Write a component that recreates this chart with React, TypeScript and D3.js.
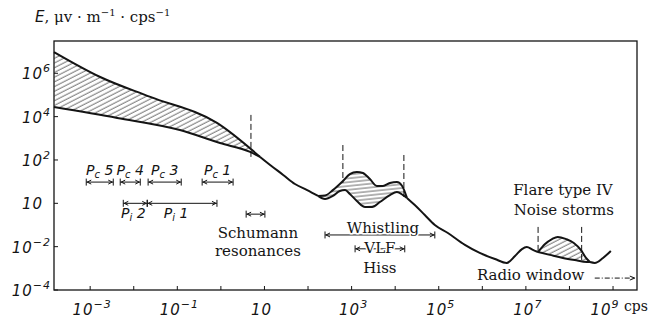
import React from 'react';
import * as d3 from 'd3';

// ---- axes (log10 units) ----
const xDomain: [number, number] = [-3.83, 9.55];
const yDomain: [number, number] = [-4, 7.49];
const xTickValues = [-3, -2, -1, 0, 1, 2, 3, 4, 5, 6, 7, 8, 9];
const xLabelValues = [-3, -1, 1, 3, 5, 7, 9];
const xLabelExps = ['−3', '−1', '', '3', '5', '7', '9'];
const yLabelValues = [-4, -2, 0, 2, 4, 6];
const yLabelExps = ['−4', '−2', '', '2', '4', '6'];

// ---- curves: [log10 f, log10 E] ----
const bandUpper: [number, number][] = [[-3.83, 6.98], [-2.77, 5.83], [-1.62, 4.91], [-0.09, 3.71], [0.9, 2.14]];
const bandLower: [number, number][] = [[-3.83, 4.44], [-2.38, 3.94], [-0.94, 3.38], [-0.02, 2.78], [0.67, 2.37], [0.9, 2.14]];
const mainA: [number, number][] = [[0.9, 2.14], [1.13, 1.77], [1.43, 1.31], [1.7, 0.89], [1.98, 0.61], [2.23, 0.34]];
const whistUpper: [number, number][] = [[2.23, 0.34], [2.39, 0.36], [2.57, 0.61], [2.8, 1.03], [2.96, 1.35], [3.12, 1.45], [3.26, 1.4], [3.42, 1.12], [3.58, 0.8], [3.72, 0.8], [3.88, 0.94], [4.04, 0.98], [4.16, 0.8], [4.27, 0.25]];
const whistLower: [number, number][] = [[2.23, 0.34], [2.39, 0.2], [2.57, 0.34], [2.73, 0.57], [2.85, 0.61], [2.96, 0.43], [3.12, 0.11], [3.31, -0.17], [3.47, -0.17], [3.65, 0.06], [3.88, 0.38], [4.04, 0.52], [4.18, 0.38], [4.27, 0.25]];
const mainB: [number, number][] = [[4.27, 0.25], [4.45, -0.08], [4.68, -0.54], [4.91, -1.0], [5.21, -1.37], [5.6, -1.92], [5.94, -2.29], [6.29, -2.57], [6.56, -2.75], [6.75, -2.43], [6.91, -2.11], [7.02, -2.02], [7.16, -2.15], [7.28, -2.25]];
const flareUpper: [number, number][] = [[7.28, -2.25], [7.44, -1.88], [7.6, -1.65], [7.73, -1.55], [7.92, -1.65], [8.1, -1.83], [8.26, -2.15], [8.38, -2.52], [8.47, -2.71]];
const flareLower: [number, number][] = [[7.28, -2.25], [7.55, -2.38], [7.85, -2.52], [8.12, -2.62], [8.4, -2.71], [8.47, -2.71]];
const mainC: [number, number][] = [[8.47, -2.71], [8.58, -2.75], [8.77, -2.52], [8.95, -2.2]];

// dashed verticals: [x, yTop, yBottom]
const dashedMarks: [number, number, number][] = [[0.69, 4.08, 2.0], [2.8, 2.69, 0.94], [4.2, 2.23, 0.29], [7.28, -1.09, -2.25], [8.28, -1.09, -2.62]];

// pulsation ranges: [from, to, level]
const pcNames = ['5', '4', '3', '1'];
const pcRanges: [number, number, number][] = [[-3.09, -2.47, 0.98], [-2.31, -1.85, 0.98], [-1.67, -0.91, 0.98], [-0.43, 0.28, 0.98]];
const piNames = ['2', '1'];
const piRanges: [number, number, number][] = [[-2.24, -1.69, 0], [-1.69, -0.09, 0]];
const otherRanges: [number, number, number][] = [[0.58, 1.01, -0.5], [2.39, 4.91, -1.46], [3.08, 4.22, -2.1]];
const radioArrow: [number, number, number] = [8.58, 9.5, -3.45];

// labels: [text, x, y]
const labels: [string, number, number][] = [
  ['Schumann', 0.85, -1.6],
  ['resonances', 0.85, -2.43],
  ['Whistling', 3.72, -1.37],
  ['VLF', 3.65, -2.29],
  ['Hiss', 3.65, -3.22],
  ['Radio window', 7.11, -3.54],
  ['Flare type IV', 7.85, 0.38],
  ['Noise storms', 7.87, -0.54],
];

const INK = '#141414';
const SERIF = '"DejaVu Serif", serif';
const NUM = '"DejaVu Sans", sans-serif';

export default function App() {
  const W = 654, H = 320;
  const x = d3.scaleLinear().domain(xDomain).range([54, 637]);
  const y = d3.scaleLinear().domain(yDomain).range([290, 41]);
  const line = d3.line<[number, number]>().x(d => x(d[0])).y(d => y(d[1])).curve(d3.curveMonotoneX);

  const areaPath = (up: [number, number][], lo: [number, number][]) => {
    const a = line(up) || '';
    const rev = lo.slice().reverse() as [number, number][];
    const b = (line(rev) || '').replace(/^M/, 'L');
    return a + b + 'Z';
  };

  const rangeBar = (r: [number, number, number], key: string) => {
    const x1 = x(r[0]), x2 = x(r[1]), yy = y(r[2]);
    return (
      <g key={key} stroke={INK} strokeWidth={1} fill="none">
        <line x1={x1} x2={x2} y1={yy} y2={yy} />
        <line x1={x1} x2={x1} y1={yy - 3.5} y2={yy + 3.5} />
        <line x1={x2} x2={x2} y1={yy - 3.5} y2={yy + 3.5} />
        <path d={`M${x1 + 5},${yy - 2}L${x1 + 1},${yy}L${x1 + 5},${yy + 2}`} />
        <path d={`M${x2 - 5},${yy - 2}L${x2 - 1},${yy}L${x2 - 5},${yy + 2}`} />
      </g>
    );
  };

  const pLabel = (sub: string, num: string, cx: number, by: number, key: string) => (
    <text key={key} x={cx} y={by} textAnchor="middle" fontFamily={NUM} fontStyle="italic" fontSize={14} fill={INK}>
      P<tspan fontSize={10} dy={3}>{sub}</tspan><tspan dy={-3}>{' ' + num}</tspan>
    </text>
  );

  const lastX = xLabelValues.length - 1;

  return (
    <svg width={W} height={H} style={{ position: 'absolute', left: 0, top: 0, background: '#fff' }}>
      <defs>
        <pattern id="hatchDiag" width={8} height={4.2} patternUnits="userSpaceOnUse" patternTransform="rotate(-27)">
          <line x1={0} y1={1} x2={8} y2={1} stroke="#333" strokeWidth={0.75} />
        </pattern>
        <pattern id="hatchFlat" width={8} height={3.8} patternUnits="userSpaceOnUse" patternTransform="rotate(-6)">
          <line x1={0} y1={1} x2={8} y2={1} stroke="#333" strokeWidth={0.75} />
        </pattern>
      </defs>

      {/* frame */}
      <rect x={x(xDomain[0])} y={y(yDomain[1])} width={x(xDomain[1]) - x(xDomain[0])} height={y(yDomain[0]) - y(yDomain[1])} fill="none" stroke={INK} strokeWidth={1.3} />

      {/* ticks */}
      {xTickValues.map(v => (
        <line key={'xt' + v} x1={x(v)} x2={x(v)} y1={y(yDomain[0])} y2={y(yDomain[0]) - 4} stroke={INK} strokeWidth={1} />
      ))}
      {yLabelValues.map(v => (
        <line key={'yt' + v} x1={x(xDomain[0])} x2={x(xDomain[0]) + 4} y1={y(v)} y2={y(v)} stroke={INK} strokeWidth={1} />
      ))}

      {/* tick labels */}
      {xLabelValues.map((v, i) => (
        <text key={'xl' + v} x={x(v) + (i === lastX ? -8 : xLabelExps[i] ? 2 : -3)} y={315} textAnchor="middle" fontFamily={NUM} fontStyle="italic" fontSize={15} fill={INK} letterSpacing={1}>
          10{xLabelExps[i] ? <tspan fontSize={11} dy={-7}>{xLabelExps[i]}</tspan> : null}
        </text>
      ))}
      <text x={624} y={311} fontFamily={SERIF} fontSize={14} fill={INK}>cps</text>
      {yLabelValues.map((v, i) => (
        <text key={'yl' + v} x={yLabelExps[i] ? 51 : 43} y={y(v) + 6} textAnchor="end" fontFamily={NUM} fontStyle="italic" fontSize={15} fill={INK} letterSpacing={1}>
          10{yLabelExps[i] ? <tspan fontSize={11} dy={-7}>{yLabelExps[i]}</tspan> : null}
        </text>
      ))}

      {/* axis title */}
      <text x={35} y={22} fontFamily={SERIF} fontSize={15} fill={INK}>
        <tspan fontFamily={NUM} fontStyle="italic">E</tspan>, μv · m<tspan fontSize={10} dy={-6}>−1</tspan><tspan dy={6}> · cps</tspan><tspan fontSize={10} dy={-6}>−1</tspan>
      </text>

      {/* hatched regions */}
      <path d={areaPath(bandUpper, bandLower)} fill="url(#hatchDiag)" stroke="none" />
      <path d={areaPath(whistUpper, whistLower)} fill="url(#hatchFlat)" stroke="none" />
      <path d={areaPath(flareUpper, flareLower)} fill="url(#hatchDiag)" stroke="none" />

      {/* curves */}
      {[bandUpper, bandLower, mainA, whistUpper, whistLower, mainB, flareUpper, flareLower, mainC].map((s, i) => (
        <path key={'c' + i} d={line(s) || ''} fill="none" stroke={INK} strokeWidth={2} strokeLinejoin="round" />
      ))}

      {/* dashed markers */}
      {dashedMarks.map((m, i) => (
        <line key={'dm' + i} x1={x(m[0])} x2={x(m[0])} y1={y(m[1])} y2={y(m[2])} stroke={INK} strokeWidth={1} strokeDasharray="6,3" />
      ))}

      {/* pulsation ranges */}
      {pcRanges.map((r, i) => rangeBar(r, 'pc' + i))}
      {pcRanges.map((r, i) => pLabel('c', pcNames[i], (x(r[0]) + x(r[1])) / 2, y(r[2]) - 7, 'pcl' + i))}
      {piRanges.map((r, i) => rangeBar(r, 'pi' + i))}
      {piRanges.map((r, i) => pLabel('i', piNames[i], (x(r[0]) + x(r[1])) / 2 - (i ? 6 : 2), y(r[2]) + 15, 'pil' + i))}
      {otherRanges.map((r, i) => rangeBar(r, 'or' + i))}

      {/* radio window arrow */}
      <g stroke={INK} strokeWidth={1} fill="none">
        <line x1={x(radioArrow[0])} x2={x(radioArrow[1])} y1={y(radioArrow[2])} y2={y(radioArrow[2])} strokeDasharray="5,2,1,2" />
        <path d={`M${x(radioArrow[1]) - 5},${y(radioArrow[2]) - 2}L${x(radioArrow[1])},${y(radioArrow[2])}L${x(radioArrow[1]) - 5},${y(radioArrow[2]) + 2}`} />
      </g>

      {/* text labels */}
      {labels.map((l, i) => (
        <text key={'lb' + i} x={x(l[1])} y={y(l[2])} textAnchor="middle" fontFamily={SERIF} fontSize={15} fill={INK}
          stroke="#fff" strokeWidth={3} paintOrder="stroke" strokeLinejoin="round">
          {l[0]}
        </text>
      ))}
    </svg>
  );
}
